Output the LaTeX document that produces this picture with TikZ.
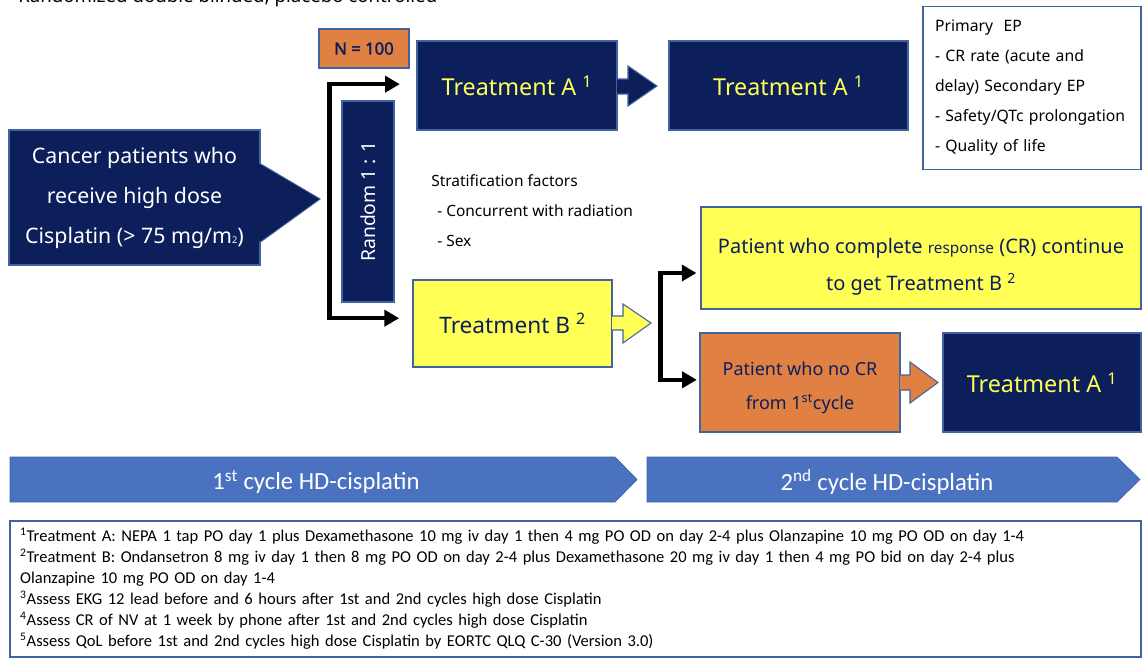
\documentclass[tikz,border=0pt]{standalone}
\usepackage{fontspec}
\setmainfont{Noto Sans}
\newfontfamily\calib{Carlito}
\newfontfamily\nbold{Noto Sans}[FakeBold=2]
\usepackage{tikz}
\usetikzlibrary{arrows.meta, positioning}
\definecolor{TrialNavy}{HTML}{0C1F5B}
\definecolor{TrtYellow}{HTML}{FFFF55}
\definecolor{BoxYellow}{HTML}{FFFF55}
\definecolor{BoxOrange}{HTML}{E08042}
\definecolor{EdgeBlue}{HTML}{41649E}
\definecolor{CycleBlue}{HTML}{4A72C0}

\begin{document}
\begin{tikzpicture}[
    x=0.75pt, y=-0.75pt,
    navybox/.style={draw=EdgeBlue, line width=0.8pt, fill=TrialNavy, text=TrtYellow, font=\fontsize{17.5}{21}\selectfont},
    yellowbox/.style={draw=EdgeBlue, line width=0.8pt, fill=BoxYellow, text=TrialNavy},
    orangebox/.style={draw=EdgeBlue, line width=0.8pt, fill=BoxOrange, text=TrialNavy},
    notebox/.style={draw=EdgeBlue, line width=0.8pt, fill=white, align=left},
    blockarr/.style={draw=EdgeBlue, line width=0.8pt},
    cyclebar/.style={fill=CycleBlue, draw=CycleBlue!85!black, line width=0.5pt},
    cyclelbl/.style={text=white, font=\calib\fontsize{18.5}{21}\selectfont},
    elbow/.style={line width=3.3pt, -{Triangle[length=11pt, width=12pt]}},
]
\useasboundingbox (0,0) rectangle (1142,658);

% --- Title, cut off at the top ---
\node[anchor=base west, inner sep=0pt, font=\fontsize{14}{17}\selectfont] (title) at (18,2) {Randomized double blinded, placebo controlled};

% --- Enrolment and randomisation ---
\filldraw[blockarr, fill=TrialNavy] (259,163) -- (320,199) -- (259,243);
\node[navybox, text=white, minimum width=188.25pt, minimum height=101.25pt, align=center, font=\fontsize{16}{30}\selectfont] (patients) at (134.5,197.5) {Cancer patients who\\receive high dose\\Cisplatin (> 75 mg/m{\scriptsize 2})};
\fill[TrialNavy] (259,164) -- (319,199) -- (259,242) -- cycle;

\node[navybox, text=white, rotate=90, minimum width=150.75pt, minimum height=39pt, font=\fontsize{14.5}{16}\selectfont] (random) at (368,201.5) {Random 1 : 1};
\node[orangebox, minimum width=67.5pt, minimum height=29.25pt, font=\nbold\fontsize{12.5}{14}\selectfont] (nbox) at (364,48.5) {N = 100};

\node[anchor=north west, align=left, inner sep=0pt, font=\fontsize{11.6}{22.5}\selectfont] (strat) at (431,174.5) {Stratification factors\\\hspace{4.5pt}- Concurrent with radiation\\\hspace{4.5pt}- Sex};

% --- Arm A (first cycle and second cycle) ---
\node[navybox, minimum width=150pt, minimum height=66.75pt] (trtA1) at (517,85.5) {Treatment A \textsuperscript{1}};
\node[navybox, minimum width=179.25pt, minimum height=66.75pt] (trtA2) at (788.5,85.5) {Treatment A \textsuperscript{1}};
\filldraw[blockarr, fill=TrialNavy] (617,79) -- (628,79) -- (628,66) -- (657,86) -- (628,106) -- (628,94) -- (617,94);

\node[notebox, minimum width=163.5pt, minimum height=122.25pt, text width=145.5pt, inner xsep=9pt, font=\fontsize{11.8}{22.5}\selectfont] (endpts) at (1032,88) {Primary~ EP\\- CR rate (acute and\\delay) Secondary EP\\- Safety/QTc prolongation\\- Quality of life};

% --- Arm B ---
\node[yellowbox, minimum width=149.25pt, minimum height=65.25pt, font=\fontsize{17}{20}\selectfont] (trtB) at (512.5,323.5) {Treatment B \textsuperscript{2}};
\filldraw[blockarr, fill=BoxYellow] (612,316) -- (623,316) -- (623,304) -- (651,323) -- (623,343) -- (623,330) -- (612,330);

\node[yellowbox, minimum width=330pt, minimum height=76.5pt, align=center, font=\fontsize{15}{27.75}\selectfont] (crbox) at (921,258) {\rule{0pt}{24pt}Patient who complete {\fontsize{11.5}{12}\selectfont response} (CR) continue\\to get Treatment B \textsuperscript{2}};
\node[orangebox, minimum width=150pt, minimum height=74.25pt, align=center, font=\fontsize{13.5}{26}\selectfont] (nocr) at (800,382.5) {\rule{0pt}{18pt}Patient who no CR\\from 1\textsuperscript{st}cycle};
\filldraw[blockarr, fill=BoxOrange] (900,375) -- (910,375) -- (910,362) -- (938,382.5) -- (910,403) -- (910,390) -- (900,390);
\node[navybox, minimum width=148.5pt, minimum height=74.25pt] (trtA3) at (1042,382.5) {Treatment A \textsuperscript{1}};

% --- Randomisation and response brackets ---
\coordinate (splitL) at (329.5,200);
\draw[elbow, shorten >=12.5pt] (splitL) |- ([yshift=1pt]trtA1.west);
\draw[elbow, shorten >=10pt] (splitL) |- ([yshift=4pt]trtB.west);
\coordinate (splitR) at (660.5,325);
\draw[elbow, shorten >=3pt] (splitR) |- ([yshift=-11.25pt]crbox.west);
\draw[elbow, shorten >=2pt] (splitR) |- ([yshift=2pt]nocr.west);

% --- Cycle bars ---
\fill[cyclebar] (10,457) -- (615,457) -- (637,479.5) -- (615,502) -- (10,502) -- cycle;
\fill[cyclebar] (647,457) -- (1117,457) -- (1140,479.5) -- (1117,502) -- (647,502) -- cycle;
\node[cyclelbl] (cyc1) at (316,482) {1\textsuperscript{st} cycle HD-cisplatin};
\node[cyclelbl] (cyc2) at (887,482) {2\textsuperscript{nd} cycle HD-cisplatin};

% --- Footnotes ---
\node[notebox, minimum width=848.25pt, minimum height=102pt, text width=833pt, inner xsep=7.5pt, font=\calib\fontsize{12.4}{15.75}\selectfont] (notes) at (575.5,589) {\textsuperscript{1}Treatment A: NEPA 1 tap PO day 1 plus Dexamethasone 10 mg iv day 1 then 4 mg PO OD on day 2-4 plus Olanzapine 10 mg PO OD on day 1-4\\
\textsuperscript{2}Treatment B: Ondansetron 8 mg iv day 1 then 8 mg PO OD on day 2-4 plus Dexamethasone 20 mg iv day 1 then 4 mg PO bid on day 2-4 plus\\
Olanzapine 10 mg PO OD on day 1-4\\
\textsuperscript{3}Assess EKG 12 lead before and 6 hours after 1st and 2nd cycles high dose Cisplatin\\
\textsuperscript{4}Assess CR of NV at 1 week by phone after 1st and 2nd cycles high dose Cisplatin\\
\textsuperscript{5}Assess QoL before 1st and 2nd cycles high dose Cisplatin by EORTC QLQ C-30 (Version 3.0)};

\end{tikzpicture}
\end{document}
